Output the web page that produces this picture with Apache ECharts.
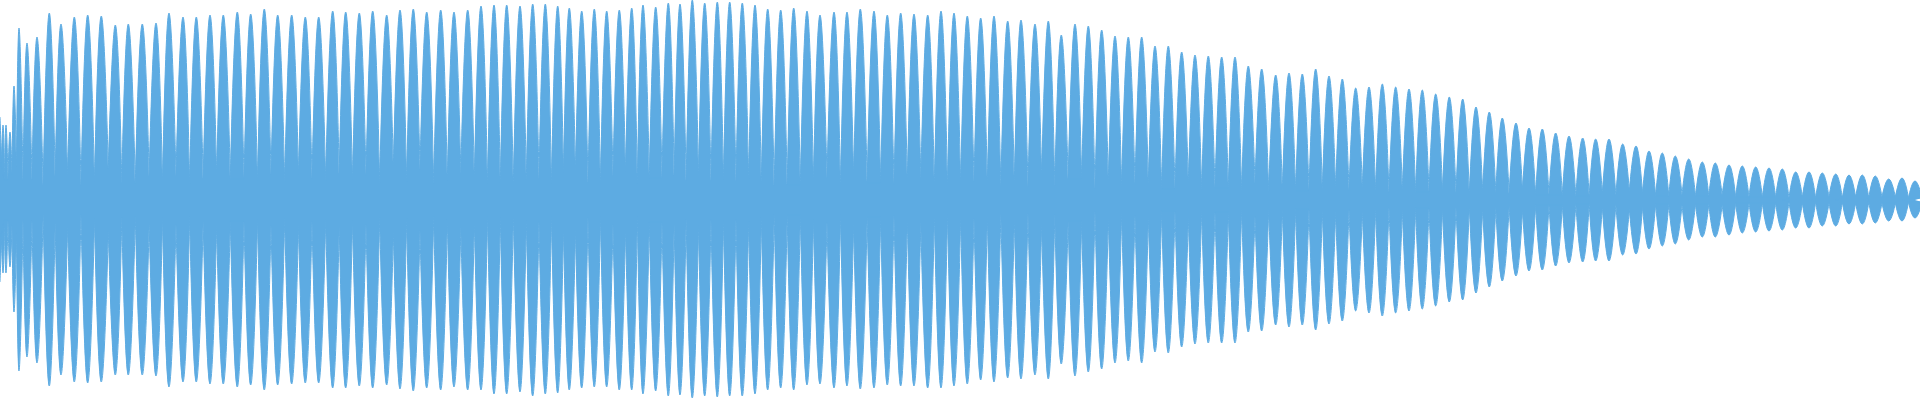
<!DOCTYPE html>
<html>
<head>
<meta charset="utf-8">
<script src="https://cdn.jsdelivr.net/npm/echarts@6/dist/echarts.min.js"></script>
<style>
html,body{margin:0;padding:0;background:#fff;}
#chart{width:1920px;height:400px;}
</style>
</head>
<body>
<div id="chart"></div>
<script>
// Time (ms) of each envelope peak (lobe centre)
const peakTimes = [
  0, 3, 6, 10, 14, 19, 27, 37,
  49.3, 61, 74.3, 87.7, 101.3, 115.3, 128.3, 142.3, 156, 169, 183, 196.3, 210, 223.3, 237.3, 250.7,
  264.3, 277.7, 291.7, 305.3, 318.7, 332.7, 345.7, 359.3, 372.7, 386.7, 400, 413.3, 426.7, 440.7, 454, 467.7,
  481, 494, 506.7, 520, 532.7, 545.3, 557.7, 569.3, 581.7, 594.3, 606.7, 619.3, 631.7, 643, 655.7, 668.3,
  680, 692.3, 704.7, 717.3, 729.7, 742.3, 755, 767.7, 780.7, 793.7, 807, 820, 834, 847, 860.3, 874,
  887.3, 900.7, 914, 927.7, 941, 954,
  967.3, 980.7, 994, 1007.7, 1021, 1035, 1048.3, 1061.3, 1075, 1088.3, 1101.7, 1115, 1128.3, 1141.7, 1155,
  1168.3, 1181.7, 1195, 1208.3, 1221.7, 1235, 1248.3, 1261.7, 1275.7, 1289, 1302.3, 1315.7, 1329, 1342.3,
  1355.7, 1369, 1382.3, 1395.7, 1409, 1422.3, 1435.7,
  1449.3, 1462.7, 1476, 1489.3, 1502.3, 1516, 1529, 1542.3, 1555.7, 1569, 1582.7, 1595.7, 1609, 1622.7,
  1636, 1649, 1662.3, 1675.3, 1688.7, 1702.3, 1715.3, 1729, 1742.3, 1755.7, 1769, 1782.3, 1795.7, 1809,
  1822.3, 1835.7, 1849, 1862.3, 1875.3, 1888.7, 1902, 1915
];
// Positive peak amplitude of each lobe
const peakHigh = [
  83, 75, 75, 68, 114, 172, 157, 163,
  187, 176, 183, 185, 184, 175, 176, 176, 177, 187, 183, 183, 185, 185, 188, 186,
  191, 185, 185, 183, 183, 189, 188, 187, 189, 185, 190, 191, 188, 190, 188, 190,
  194, 195, 195, 194, 196, 196, 194, 192, 189, 191, 189, 190, 192, 195, 193, 197,
  196, 200, 197, 198, 198, 197, 195, 191, 190, 192, 189, 185, 188, 188, 191, 189,
  185, 187, 186, 185, 189, 187,
  184, 182, 184, 179, 180, 176, 179, 165, 176, 174, 170, 164, 163, 163, 154,
  154, 148, 145, 144, 143, 143, 134, 131, 125, 127, 126, 131, 124, 121,
  112, 113, 116, 113, 111, 110, 106,
  103, 101, 93, 88, 82, 77, 72, 71, 67, 64, 62, 61, 61, 56,
  54, 49, 47, 44, 41, 38, 37, 35, 34, 33, 32, 31, 28, 28,
  27, 26, 25, 25, 24, 21, 22, 19
];
// Negative peak amplitude (depth below zero) of each lobe
const peakLow = [
  82, 73, 73, 67, 112, 171, 157, 163,
  186, 175, 182, 183, 182, 175, 175, 175, 176, 187, 182, 182, 184, 184, 187, 185,
  190, 185, 184, 183, 183, 188, 188, 186, 188, 185, 189, 191, 188, 190, 187, 190,
  190, 194, 194, 192, 196, 194, 193, 190, 188, 187, 187, 190, 190, 194, 191, 196,
  195, 198, 196, 197, 196, 196, 194, 190, 188, 190, 185, 184, 188, 186, 189, 188,
  185, 186, 186, 188, 188, 186,
  184, 180, 182, 178, 179, 175, 179, 164, 176, 172, 169, 163, 161, 163, 152,
  153, 147, 144, 143, 143, 143, 132, 131, 125, 127, 125, 130, 124, 121,
  111, 113, 116, 113, 111, 109, 106,
  102, 100, 93, 87, 81, 76, 71, 70, 66, 63, 62, 61, 61, 55,
  54, 49, 46, 44, 40, 37, 37, 35, 33, 32, 31, 30, 28, 28,
  26, 26, 24, 24, 23, 21, 21, 18
];
// Envelope minimum between consecutive lobes (same above and below zero)
const troughAmp = [
  40, 20, 20, 25, 32, 19, 20, 14,
  23, 25, 14, 18, 31, 17, 16, 24, 17, 24, 16, 21, 25, 21, 21, 19, 25, 18, 25, 21, 19, 26, 20, 24,
  17, 32, 18, 30, 16, 19, 27, 22,
  16, 17, 15, 20, 21, 16, 27, 30, 17, 16, 24, 28, 16, 22, 22, 24, 19, 25, 19, 20, 19, 21, 17, 14,
  15, 15, 19, 22, 14, 24, 17, 17, 15, 19, 22, 15, 14,
  16,
  18, 16, 13, 19, 13, 24, 14, 21, 21, 11, 18, 13, 15, 17, 11, 11, 18, 10, 12, 12, 9, 16, 9, 10,
  9, 9, 11, 12, 9, 12, 9, 7, 10, 8, 8,
  9,
  7, 6, 9, 7, 6, 10, 5, 5, 5, 4, 4, 7, 4, 9, 7, 4, 4, 5, 4, 4, 5, 3, 3, 3, 3, 2, 3, 2, 3, 2, 3,
  2, 3, 3, 2
];
const endTime = 1922;
const endTrough = 2;

// Each lobe is its own smoothed segment (trough -> peak -> trough), separated by gaps,
// so the lobes are rounded at the top and meet in a sharp notch.
function envelope(peaks, sign) {
  const pts = [];
  const n = peakTimes.length;
  for (let i = 0; i < n; i++) {
    if (i > 0) pts.push([(peakTimes[i - 1] + peakTimes[i]) / 2, sign * troughAmp[i - 1]]);
    pts.push([peakTimes[i], sign * peaks[i]]);
    if (i < n - 1) {
      const tm = (peakTimes[i] + peakTimes[i + 1]) / 2;
      pts.push([tm, sign * troughAmp[i]]);
      pts.push([tm, null]);
    } else {
      pts.push([endTime, sign * endTrough]);
    }
  }
  return pts;
}
// Continuous low band through the troughs (the part of the signal that never drops out)
function band(sign) {
  const pts = [[peakTimes[0], sign * troughAmp[0]]];
  for (let i = 0; i < peakTimes.length - 1; i++) {
    pts.push([(peakTimes[i] + peakTimes[i + 1]) / 2, sign * troughAmp[i]]);
  }
  pts.push([endTime, sign * endTrough]);
  return pts;
}

const color = '#5dabe2';
const chart = echarts.init(document.getElementById('chart'), null, {renderer: 'canvas'});
const common = {
  type: 'line', showSymbol: false, symbol: 'none', connectNulls: false,
  lineStyle: {color: color, width: 1}, areaStyle: {color: color, opacity: 1}, clip: true
};
chart.setOption({
  animation: false,
  grid: {left: 0, right: 0, top: 0, bottom: 0},
  xAxis: {type: 'value', min: 0, max: 1920, show: false},
  yAxis: {type: 'value', min: -200, max: 200, show: false},
  series: [
    Object.assign({data: band(1)}, common),
    Object.assign({data: band(-1)}, common),
    Object.assign({data: envelope(peakHigh, 1), smooth: 0.5}, common),
    Object.assign({data: envelope(peakLow, -1), smooth: 0.5}, common)
  ]
});
</script>
</body>
</html>
